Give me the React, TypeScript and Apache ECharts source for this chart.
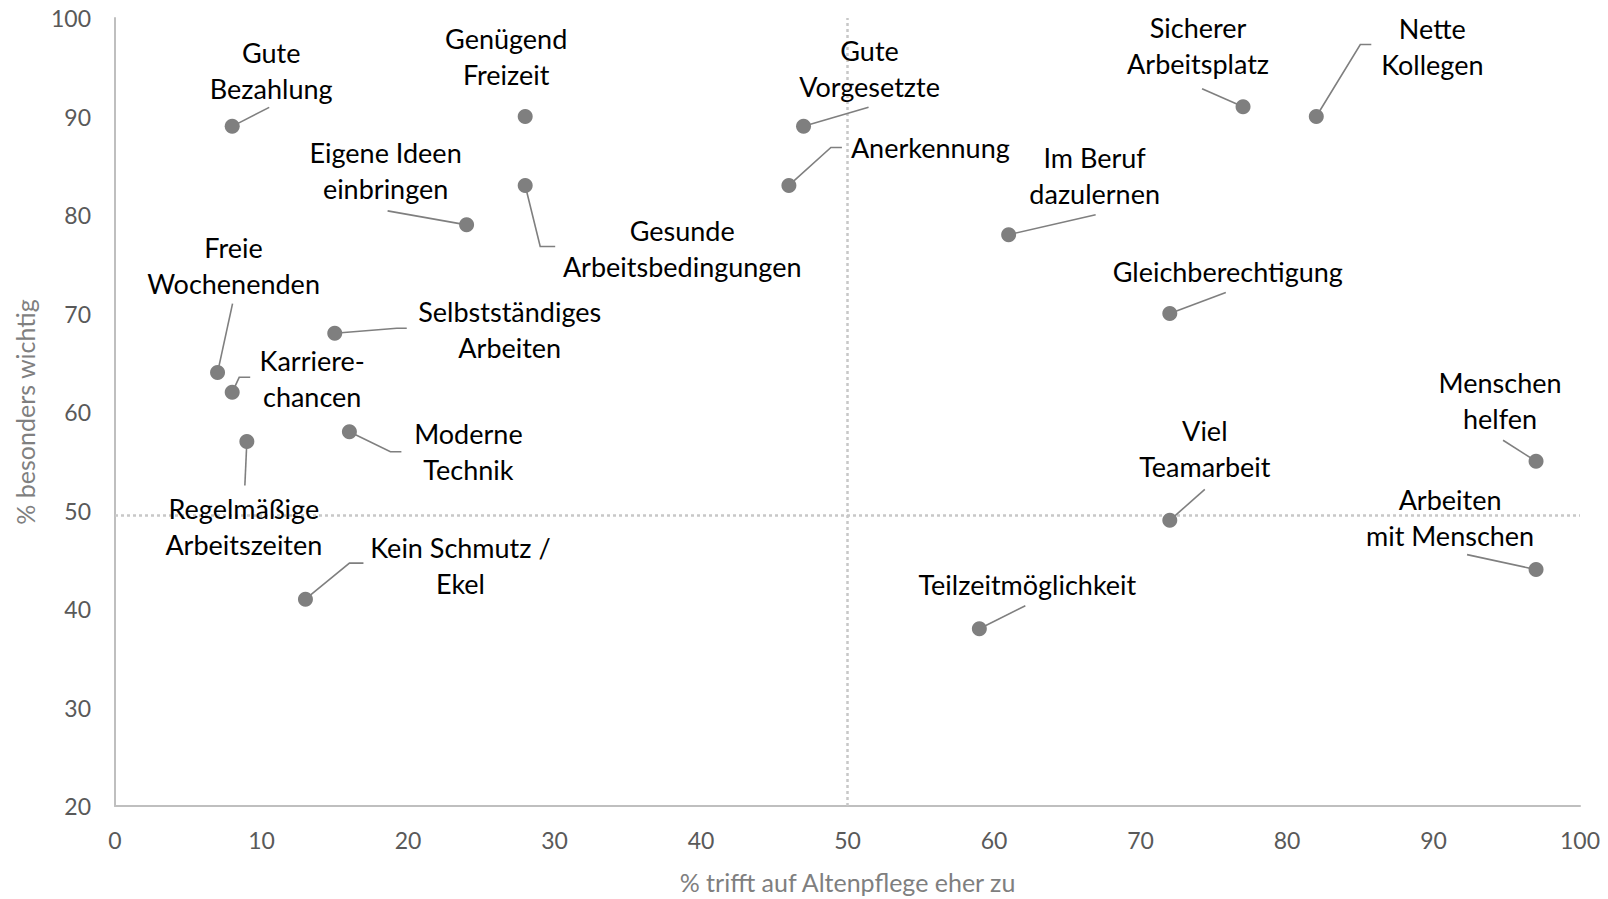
import React, { useEffect, useRef } from "react";
import * as echarts from "echarts";

// Data
const categories: string[] = [
  "Gute\nBezahlung",
  "Genügend\nFreizeit",
  "Eigene Ideen\neinbringen",
  "Gesunde\nArbeitsbedingungen",
  "Gute\nVorgesetzte",
  "Anerkennung",
  "Im Beruf\ndazulernen",
  "Sicherer\nArbeitsplatz",
  "Nette\nKollegen",
  "Gleichberechtigung",
  "Freie\nWochenenden",
  "Selbstständiges\nArbeiten",
  "Karriere-\nchancen",
  "Regelmäßige\nArbeitszeiten",
  "Moderne\nTechnik",
  "Kein Schmutz /\nEkel",
  "Teilzeitmöglichkeit",
  "Viel\nTeamarbeit",
  "Menschen\nhelfen",
  "Arbeiten\nmit Menschen",
];
const trifftZu: number[] = [8, 28, 24, 28, 47, 46, 61, 77, 82, 72, 7, 15, 8, 9, 16, 13, 59, 72, 97, 97];
const wichtig: number[] = [89, 90, 79, 83, 89, 83, 78, 91, 90, 70, 64, 68, 62, 57, 58, 41, 38, 49, 55, 44];

const xTicks = { min: 0, max: 100, interval: 10 };
const yTicks = { min: 20, max: 100, interval: 10 };
const refX = 50;
const refY = 49.5;

// Label placement (pixel offsets from each point) — style, not data
const labelOffset: [number, number][] = [
  [39, -56],
  [-19, -60],
  [-81, -54],
  [157, 63],
  [66, -58],
  [62, -38],
  [86, -59],
  [-45, -61],
  [116, -70],
  [58, -42],
  [16, -107],
  [175, -4],
  [80, -14],
  [-3, 85],
  [119, 20],
  [155, -34],
  [48, -44],
  [35, -72],
  [-36, -61],
  [-86, -52],
];
const labelAlign: string[] = [
  "center", "center", "center", "center", "center", "left", "center", "center", "center", "center",
  "center", "center", "center", "center", "center", "center", "center", "center", "center", "center",
];
const leaders: [number, number][][] = [
  [[37, -19]],
  [],
  [[-79, -14]],
  [[15, 61], [30, 61]],
  [[65, -19]],
  [[42, -38], [53, -38]],
  [[87, -20]],
  [[-41, -18]],
  [[44, -72], [55, -72]],
  [[56, -21]],
  [[15, -69]],
  [[62, -5], [72, -5]],
  [[7, -15], [18, -15]],
  [[-2, 44]],
  [[41, 20], [52, 20]],
  [[44, -36], [58, -36]],
  [[46, -23]],
  [[35, -31]],
  [[-33, -21]],
  [[-69, -15]],
];

const FONT = "Lato, 'Open Sans', sans-serif";

export default function App() {
  const ref = useRef<HTMLDivElement>(null);
  useEffect(() => {
    if (!ref.current) return;
    const chart = echarts.init(ref.current, undefined, { renderer: "svg" });
    const points = trifftZu.map((x, i) => [x, wichtig[i]]);
    chart.setOption({
      animation: false,
      backgroundColor: "#ffffff",
      textStyle: { fontFamily: FONT },
      grid: { left: 115, top: 18, right: 28, bottom: 91, containLabel: false },
      xAxis: {
        type: "value",
        min: xTicks.min,
        max: xTicks.max,
        interval: xTicks.interval,
        name: "% trifft auf Altenpflege eher zu",
        nameLocation: "middle",
        nameGap: 63,
        nameTextStyle: { color: "#7f7f7f", fontSize: 25, fontFamily: FONT },
        axisLine: { show: true, lineStyle: { color: "#bfbfbf", width: 2 } },
        axisTick: { show: false },
        splitLine: { show: false },
        axisLabel: { color: "#595959", fontSize: 23, margin: 22, fontFamily: FONT },
      },
      yAxis: {
        type: "value",
        min: yTicks.min,
        max: yTicks.max,
        interval: yTicks.interval,
        name: "% besonders wichtig",
        nameLocation: "middle",
        nameGap: 78,
        nameRotate: 90,
        nameTextStyle: { color: "#7f7f7f", fontSize: 25, fontFamily: FONT },
        axisLine: { show: true, onZero: false, lineStyle: { color: "#bfbfbf", width: 2 } },
        axisTick: { show: false },
        splitLine: { show: false },
        axisLabel: { color: "#595959", fontSize: 23, margin: 24, fontFamily: FONT },
      },
      series: [
        {
          type: "line",
          z: 1,
          data: [],
          markLine: {
            silent: true,
            z: 1,
            symbol: "none",
            label: { show: false },
            lineStyle: { color: "#c8c8c8", type: [3, 3], width: 2.5 },
            data: [{ xAxis: refX }, { yAxis: refY }],
          },
        },
        {
          type: "custom",
          z: 2,
          clip: false,
          data: points,
          encode: { x: 0, y: 1 },
          renderItem: (params: any, api: any) => {
            const i = params.dataIndex;
            const c = api.coord([api.value(0), api.value(1)]);
            const px = c[0];
            const py = c[1];
            const lp = leaders[i].map(([a, b]) => [px + a, py + b]);
            const children: any[] = [];
            if (lp.length) {
              children.push({
                type: "polyline",
                shape: { points: [[px, py], ...lp] },
                style: { stroke: "#7f7f7f", lineWidth: 1.6, fill: null },
              });
            }
            children.push({
              type: "text",
              x: px + labelOffset[i][0],
              y: py + labelOffset[i][1],
              style: {
                text: categories[i],
                fill: "#000000",
                fontSize: 27,
                fontFamily: FONT,
                align: labelAlign[i],
                verticalAlign: "middle",
                lineHeight: 36,
              },
            });
            return { type: "group", children };
          },
        },
        {
          type: "scatter",
          z: 3,
          data: points,
          symbol: "circle",
          symbolSize: 15,
          itemStyle: { color: "#7f7f7f", opacity: 1 },
        },
      ],
    });
    return () => chart.dispose();
  }, []);
  return (
    <div
      ref={ref}
      style={{ position: "fixed", left: 0, top: 0, width: 1608, height: 899, background: "#fff" }}
    />
  );
}
